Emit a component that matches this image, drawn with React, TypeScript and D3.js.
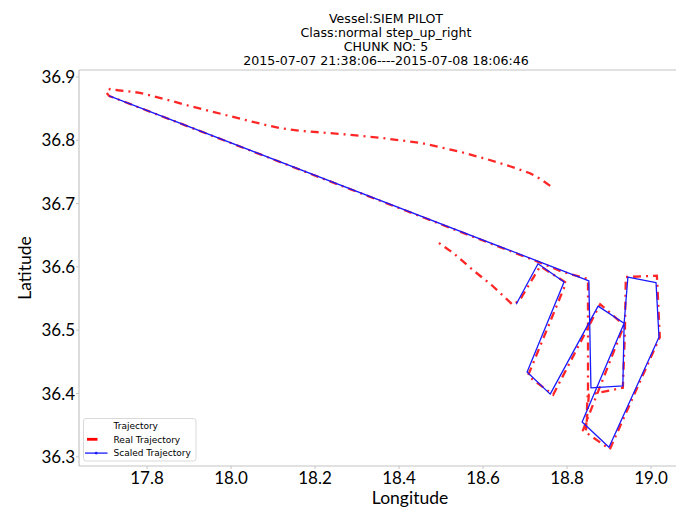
import React from 'react';
import * as d3 from 'd3';

const titleLines = [
  'Vessel:SIEM PILOT',
  'Class:normal step_up_right',
  'CHUNK NO: 5',
  '2015-07-07 21:38:06----2015-07-08 18:06:46',
];
const xTicks = [17.8, 18.0, 18.2, 18.4, 18.6, 18.8, 19.0];
const yTicks = [36.3, 36.4, 36.5, 36.6, 36.7, 36.8, 36.9];
const legendLabels = ['Trajectory', 'Real Trajectory', 'Scaled Trajectory'];

const realLon = [
  18.760, 18.736, 18.712, 18.664, 18.610, 18.545, 18.498, 18.450, 18.355, 18.260,
  18.164, 18.117, 18.052, 17.998, 17.957, 17.902, 17.848, 17.783, 17.731, 17.712,
  17.702, 17.710, 18.731, 18.790, 18.850, 18.850, 18.850, 18.845, 18.852, 18.933,
  18.938, 18.940, 19.014, 19.021, 18.902, 18.838, 18.936, 18.879, 18.767, 18.707,
  18.798, 18.736, 18.688, 18.671, 18.621, 18.576, 18.529, 18.488,
];
const realLat = [
  36.728, 36.739, 36.748, 36.759, 36.770, 36.782, 36.789, 36.796, 36.804, 36.810,
  36.815, 36.819, 36.829, 36.838, 36.845, 36.854, 36.864, 36.875, 36.879, 36.881,
  36.876, 36.870, 36.608, 36.592, 36.581, 36.500, 36.409, 36.339, 36.398, 36.409,
  36.500, 36.584, 36.586, 36.489, 36.312, 36.342, 36.508, 36.541, 36.398, 36.428,
  36.575, 36.601, 36.548, 36.540, 36.571, 36.595, 36.622, 36.641,
];

const scaledLon = [
  17.710, 18.852, 18.857, 18.933, 18.936, 18.945, 19.012, 19.019, 18.900,
  18.836, 18.936, 18.874, 18.760, 18.705, 18.793, 18.731, 18.679,
];
const scaledLat = [
  36.870, 36.578, 36.409, 36.412, 36.511, 36.584, 36.575, 36.489, 36.315,
  36.355, 36.511, 36.538, 36.399, 36.434, 36.576, 36.605, 36.541,
];

const W = 676;
const H = 507;
const spine = '#c4c4c4';
const tickFont = 'Lato, "Open Sans", sans-serif';
const titleFont = '"DejaVu Sans", sans-serif';

export default function App() {
  const left = 79;
  const top = 70;
  const bottom = 466;
  const x = d3.scaleLinear().domain([17.638, 19.08]).range([left, 684.6]);
  const y = d3.scaleLinear().domain([36.2855, 36.911]).range([bottom, top]);

  const real: [number, number][] = realLon.map((v, i) => [v, realLat[i]]);
  const scaled: [number, number][] = scaledLon.map((v, i) => [v, scaledLat[i]]);
  const line = d3
    .line<[number, number]>()
    .x((d) => x(d[0]))
    .y((d) => y(d[1]));

  const lx = 83.5;
  const ly = 418.5;

  return (
    <svg
      width={W}
      height={H}
      style={{ position: 'absolute', left: 0, top: 0, background: '#fff' }}
    >
      <defs>
        <clipPath id="plot">
          <rect x={left} y={top} width={W - left} height={bottom - top} />
        </clipPath>
      </defs>
      <rect x={0} y={0} width={W} height={H} fill="#fff" />

      {/* title */}
      {titleLines.map((t, i) => (
        <text
          key={t}
          x={386}
          y={23.2 + i * 13.8}
          textAnchor="middle"
          fontFamily={titleFont}
          fontSize={12.6}
          fill="#000"
        >
          {t}
        </text>
      ))}

      {/* spines */}
      <line x1={left} x2={W} y1={top} y2={top} stroke={spine} strokeWidth={1.2} />
      <line x1={left} x2={W} y1={bottom} y2={bottom} stroke={spine} strokeWidth={1.2} />
      <line x1={left} x2={left} y1={top} y2={bottom} stroke={spine} strokeWidth={1.2} />

      {/* ticks */}
      {xTicks.map((t) => (
        <g key={'x' + t}>
          <line x1={x(t)} x2={x(t)} y1={bottom} y2={bottom + 3} stroke={spine} />
          <text
            x={x(t)}
            y={bottom + 18}
            textAnchor="middle"
            fontFamily={tickFont}
            fontSize={17}
            fill="#000"
          >
            {t.toFixed(1)}
          </text>
        </g>
      ))}
      {yTicks.map((t) => (
        <g key={'y' + t}>
          <line x1={left - 3} x2={left} y1={y(t)} y2={y(t)} stroke={spine} />
          <text
            x={left - 4}
            y={y(t)}
            dy="0.36em"
            textAnchor="end"
            fontFamily={tickFont}
            fontSize={17}
            fill="#000"
          >
            {t.toFixed(1)}
          </text>
        </g>
      ))}

      {/* axis labels */}
      <text x={410} y={504} textAnchor="middle" fontFamily={tickFont} fontSize={17.5} fill="#000">
        Longitude
      </text>
      <text
        transform={`translate(31, ${(top + bottom) / 2}) rotate(-90)`}
        textAnchor="middle"
        fontFamily={tickFont}
        fontSize={17.5}
        fill="#000"
      >
        Latitude
      </text>

      {/* data */}
      <g clipPath="url(#plot)">
        <path
          d={line(real) || ''}
          fill="none"
          stroke="#ff0000"
          strokeOpacity={0.85}
          strokeWidth={2.3}
          strokeDasharray="8,5,2,5"
        />
        <path
          d={line(scaled) || ''}
          fill="none"
          stroke="#1a1aff"
          strokeWidth={1.3}
          strokeLinejoin="round"
        />
      </g>

      {/* legend */}
      <rect
        x={lx}
        y={ly}
        width={112.5}
        height={42.5}
        rx={2.5}
        fill="#fff"
        fillOpacity={0.8}
        stroke="#d9d9d9"
        strokeWidth={1}
      />
      {legendLabels.map((l, i) => (
        <text
          key={l}
          x={113.5}
          y={ly + 7 + i * 13.8}
          dy="0.36em"
          fontFamily={titleFont}
          fontSize={9}
          fill="#000"
        >
          {l}
        </text>
      ))}
      <line x1={87} x2={97.5} y1={ly + 20.8} y2={ly + 20.8} stroke="#ff0000" strokeWidth={2.8} />
      <line x1={85} x2={107.5} y1={ly + 34.6} y2={ly + 34.6} stroke="#1a1aff" strokeWidth={1.3} />
      <circle cx={96.2} cy={ly + 34.6} r={1.4} fill="#1a1aff" />
    </svg>
  );
}
